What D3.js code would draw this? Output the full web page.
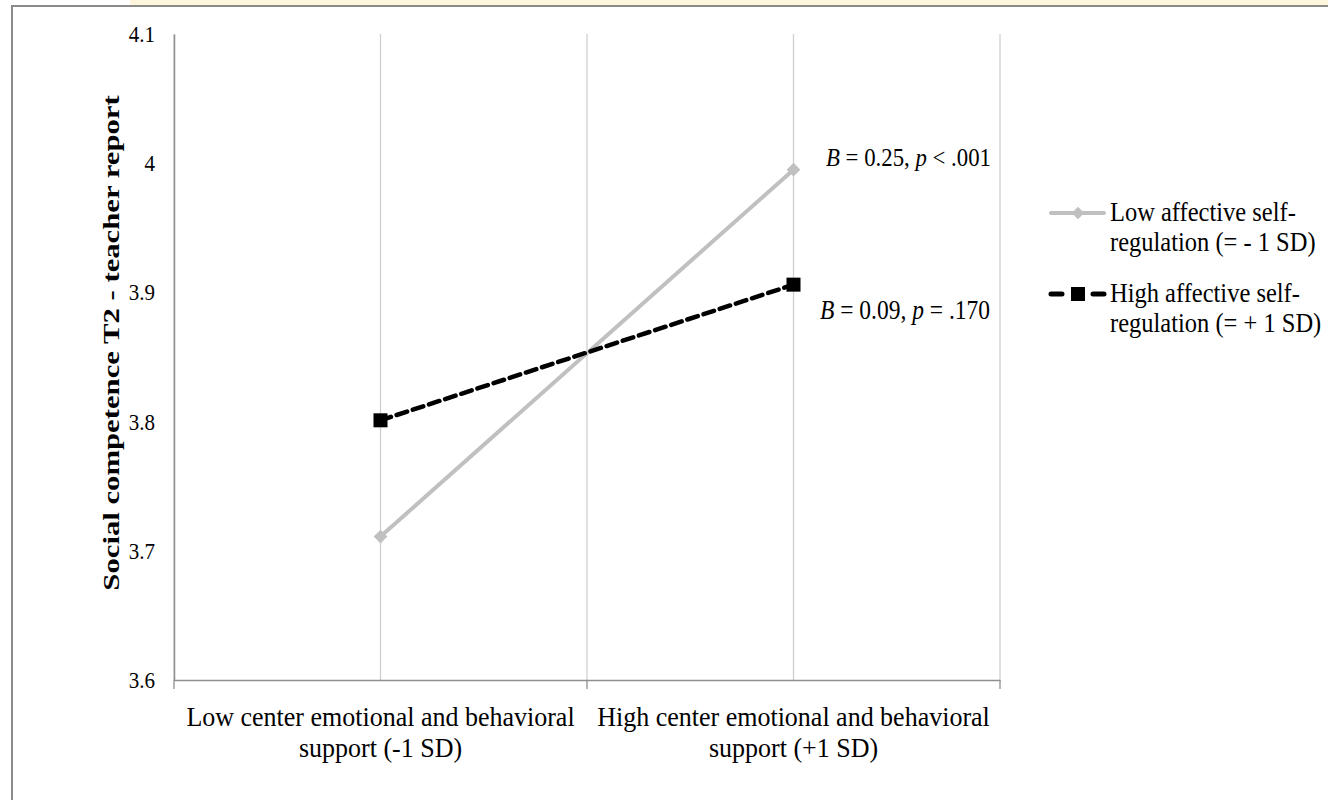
<!DOCTYPE html>
<html>
<head>
<meta charset="utf-8">
<title>Social competence interaction</title>
<script src="https://d3js.org/d3.v7.min.js"></script>
<style>
  body { margin: 0; background: #fff; }
  svg text { font-family: "Liberation Serif", "Times New Roman", serif; fill: #000; }
</style>
</head>
<body>
<svg width="1328" height="800" id="chart"></svg>
<script>
// categories and series values
var categories = ["Low center emotional and behavioral|support (-1 SD)",
                  "High center emotional and behavioral|support (+1 SD)"]
var lowReg = [3.711, 3.995]   // Low affective self-regulation (= - 1 SD)
var highReg = [3.801, 3.906]  // High affective self-regulation (= + 1 SD)
var yTicks = [3.6, 3.7, 3.8, 3.9, 4, 4.1]
var yTickLabels = ["3.6", "3.7", "3.8", "3.9", "4", "4.1"]
var notes = [["B", " = 0.25, ", "p", " < .001"], ["B", " = 0.09, ", "p", " = .170"]]

var svg = d3.select("#chart")

// frame of the screenshot
svg.append("rect").attr("x", 130).attr("y", 0).attr("width", 1198).attr("height", 5).attr("fill", "#fdf5dc")
svg.append("line").attr("x1", 11).attr("x2", 1328).attr("y1", 6).attr("y2", 6).attr("stroke", "#8a8a8a").attr("stroke-width", 2)
svg.append("line").attr("x1", 12).attr("x2", 12).attr("y1", 5).attr("y2", 800).attr("stroke", "#8a8a8a").attr("stroke-width", 2)

var x = d3.scaleBand().domain(d3.range(categories.length)).range([174, 1000])
var y = d3.scaleLinear().domain([3.6, 4.1]).range([680, 34])

var g = svg.append("g")

// put a (multi line) text at x,y, stretched a little vertically like the original
function label(parent, tx, ty, lines, size, stretch, gap, anchor) {
  var t = parent.append("g").attr("transform", "translate(" + tx + "," + ty + ") scale(1," + stretch + ")")
    .append("text").attr("text-anchor", anchor || "start").attr("font-size", size)
  lines.forEach(function(s, k) {
    t.append("tspan").attr("x", 0).attr("dy", k ? gap / stretch : 0).text(s)
  })
  return t
}

// vertical grid lines (category centres and boundaries)
var gridX = [x.range()[0]].concat(d3.range(categories.length).map(function(i) { return x(i) + x.bandwidth() / 2 }))
  .concat(d3.range(categories.length).map(function(i) { return x(i) + x.bandwidth() }))
g.selectAll(".grid").data(gridX).enter().append("line")
  .attr("x1", function(d) { return d }).attr("x2", function(d) { return d })
  .attr("y1", y(4.1)).attr("y2", y(3.6))
  .attr("stroke", "#cfcfcf").attr("stroke-width", 1.3)

// x axis
var xa = g.append("g").attr("transform", "translate(0," + y(3.6) + ")")
  .call(d3.axisBottom(x).tickSize(0).tickFormat(""))
xa.select(".domain").attr("stroke", "#8f8f8f").attr("stroke-width", 1.5)
var tickX = [x.range()[0]].concat(d3.range(categories.length).map(function(i) { return x(i) + x.bandwidth() }))
xa.selectAll(".bnd").data(tickX).enter().append("line")
  .attr("x1", function(d) { return d }).attr("x2", function(d) { return d })
  .attr("y1", 0).attr("y2", 9).attr("stroke", "#8f8f8f").attr("stroke-width", 1.3)

categories.forEach(function(c, i) {
  label(g, x(i) + x.bandwidth() / 2, 726, c.split("|"), 26, 1.06, 31, "middle")
})

// y axis
var ya = g.append("g").attr("transform", "translate(174,0)")
  .call(d3.axisLeft(y).tickValues(yTicks).tickSize(0).tickPadding(19)
    .tickFormat(function(d, i) { return yTickLabels[i] }))
ya.select(".domain").attr("stroke", "#8f8f8f").attr("stroke-width", 1.5)
ya.selectAll("text").attr("font-size", 21).attr("font-family", "Liberation Serif")
  .attr("transform", "scale(1,1.12)")

svg.append("text").attr("transform", "translate(119,343) rotate(-90) scale(1.28,1)")
  .attr("text-anchor", "middle").attr("font-size", 24).attr("font-weight", "bold")
  .text("Social competence T2 - teacher report")

var line = d3.line()
  .x(function(d, i) { return x(i) + x.bandwidth() / 2 })
  .y(function(d) { return y(d) })

// low self-regulation: gray line with diamonds
g.append("path").datum(lowReg).attr("d", line)
  .attr("fill", "none").attr("stroke", "#c0c0c0").attr("stroke-width", 4)
g.selectAll(".dia").data(lowReg).enter().append("path")
  .attr("d", d3.symbol().type(d3.symbolDiamond2).size(120))
  .attr("transform", function(d, i) { return "translate(" + (x(i) + x.bandwidth() / 2) + "," + y(d) + ")" })
  .attr("fill", "#c0c0c0")

// high self-regulation: black dashed line with squares
g.append("path").datum(highReg).attr("d", line)
  .attr("fill", "none").attr("stroke", "#000").attr("stroke-width", 4.5)
  .attr("stroke-dasharray", "11,6").attr("stroke-linecap", "round")
g.selectAll(".sq").data(highReg).enter().append("rect")
  .attr("x", function(d, i) { return x(i) + x.bandwidth() / 2 - 7 })
  .attr("y", function(d) { return y(d) - 7 })
  .attr("width", 14).attr("height", 14).attr("fill", "#000")

// slope notes
var noteY = [y(lowReg[1]) - 4, y(highReg[1]) + 34]
var noteX = [826, 820]
notes.forEach(function(n, i) {
  var t = label(svg, noteX[i], noteY[i], [""], i ? 23.5 : 22.8, 1.15, 0)
  t.select("tspan").remove()
  n.forEach(function(s, k) {
    t.append("tspan").attr("font-style", k % 2 === 0 ? "italic" : "normal").text(s)
  })
})

// legend
var legend = [
  {lines: ["Low affective self-", "regulation (= - 1 SD)"], color: "#c0c0c0", dash: null, marker: "diamond", y: 213},
  {lines: ["High affective self-", "regulation (= + 1 SD)"], color: "#000", dash: "11,31", marker: "square", y: 294}
]
legend.forEach(function(l) {
  var lg = svg.append("g")
  lg.append("line").attr("x1", 1051).attr("x2", 1104).attr("y1", l.y).attr("y2", l.y)
    .attr("stroke", l.color).attr("stroke-width", l.dash ? 5 : 4)
    .attr("stroke-dasharray", l.dash).attr("stroke-linecap", "round")
  if (l.marker === "diamond") {
    lg.append("path").attr("d", d3.symbol().type(d3.symbolDiamond2).size(100))
      .attr("transform", "translate(1078," + l.y + ")").attr("fill", l.color)
  } else {
    lg.append("rect").attr("x", 1071).attr("y", l.y - 7).attr("width", 14).attr("height", 14).attr("fill", l.color)
  }
  label(lg, 1110, l.y + 8, l.lines, 24.5, 1.08, 30)
})
</script>
</body>
</html>
